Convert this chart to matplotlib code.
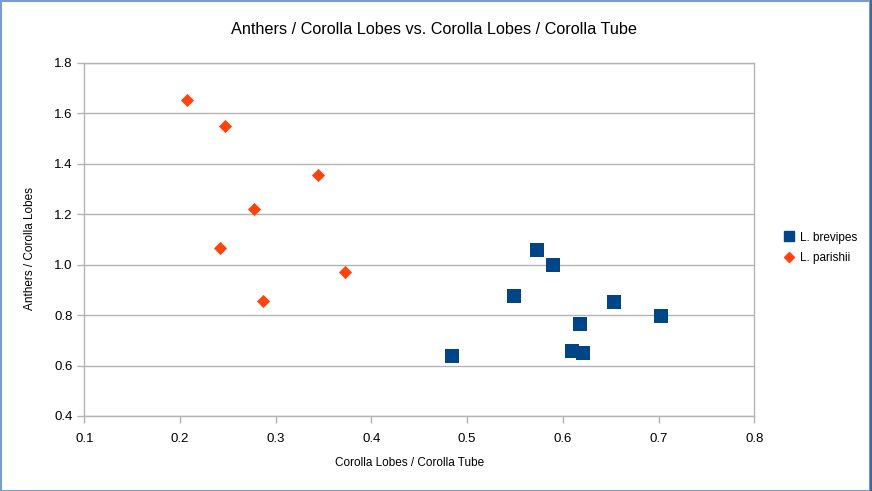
import matplotlib
matplotlib.use("Agg")
import matplotlib.pyplot as plt
from matplotlib.lines import Line2D

plt.rcParams['font.family'] = ['Liberation Sans', 'DejaVu Sans']

# L. brevipes
brev_x = [0.4845, 0.5493, 0.5733, 0.5894, 0.6099, 0.6211, 0.6176, 0.6531, 0.7029]
brev_y = [0.6365, 0.8742, 1.0565, 0.9995, 0.6587, 0.6508, 0.7633, 0.8529, 0.7974]

# L. parishii
par_x = [0.2073, 0.2470, 0.3445, 0.2773, 0.2418, 0.3724, 0.2871]
par_y = [1.652, 1.549, 1.3537, 1.2214, 1.0656, 0.9705, 0.8568]

xticks = [0.1, 0.2, 0.3, 0.4, 0.5, 0.6, 0.7, 0.8]
yticks = [0.4, 0.6, 0.8, 1.0, 1.2, 1.4, 1.6, 1.8]

grid_col = '#b3b3b3'
W, H = 872, 491

fig = plt.figure(figsize=(8.72, 4.91), dpi=100)
ax = fig.add_axes([84.3 / W, 75 / H, (754.3 - 84.3) / W, (416 - 62.7) / H])

ax.scatter(brev_x, brev_y, marker='s', s=90, color='#004586', linewidths=0, zorder=3)
ax.scatter(par_x, par_y, marker='D', s=45, color='#ff420e', linewidths=0, zorder=3)

ax.set_xlim(0.1, 0.8)
ax.set_ylim(0.4, 1.8)
ax.set_xticks(xticks)
ax.set_yticks(yticks)
ax.set_xticklabels([f'{v:.1f}' for v in xticks])
ax.set_yticklabels([f'{v:.1f}' for v in yticks])
ax.yaxis.grid(True, color=grid_col, linewidth=1)
ax.set_axisbelow(True)
for sp in ax.spines.values():
    sp.set_color(grid_col)
    sp.set_linewidth(1)
ax.tick_params(colors=grid_col, labelcolor='black', labelsize=9.5, length=5, width=1)
ax.tick_params(axis='x', pad=7)

fig.text(409.5 / W, 1 - 463 / H, 'Corolla Lobes / Corolla Tube',
         ha='center', va='center', fontsize=8.5)
fig.text(30 / W, 1 - 248 / H, 'Anthers / Corolla Lobes',
         ha='center', va='center', fontsize=8.5, rotation=90)
fig.text(434 / W, 1 - 30 / H, 'Anthers / Corolla Lobes vs. Corolla Lobes / Corolla Tube',
         ha='center', va='center', fontsize=11.7)

handles = [Line2D([], [], marker='s', linestyle='', color='#004586', markersize=7),
           Line2D([], [], marker='D', linestyle='', color='#ff420e', markersize=5.5)]
fig.legend(handles, ['L. brevipes', 'L. parishii'], loc='center left',
           bbox_to_anchor=(772 / W, 1 - 248 / H), frameon=False, fontsize=8.5,
           handletextpad=0.45, handlelength=1.0, labelspacing=0.75)

# outer frame
fig.add_artist(plt.Rectangle((0.001, 0.001), 0.997, 0.997, transform=fig.transFigure,
                             fill=False, edgecolor='#7a9cc8', linewidth=1.5))
fig.add_artist(Line2D([0.9985, 0.9985], [0, 1], transform=fig.transFigure,
                      color='#3c6aa0', linewidth=1.5))

fig.savefig('out.png', dpi=100)
